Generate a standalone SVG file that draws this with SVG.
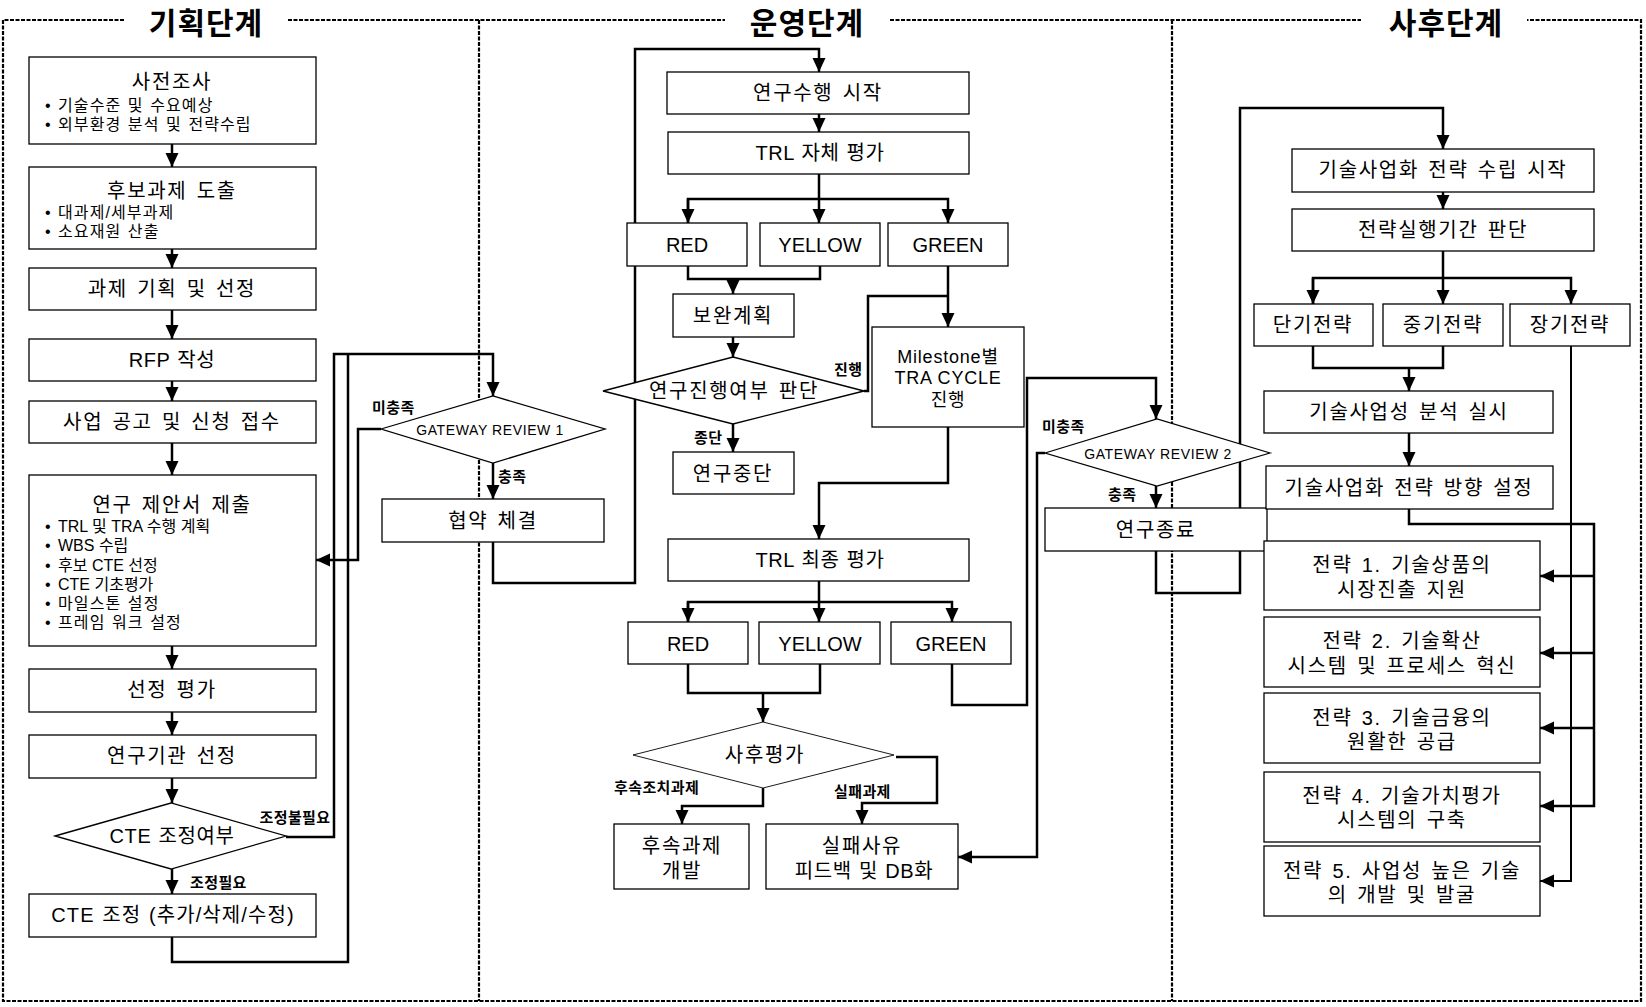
<svg xmlns="http://www.w3.org/2000/svg" width="1646" height="1007" viewBox="0 0 1646 1007">
<defs>
<style>
.bg{fill:#fff}
.frame{fill:none;stroke:#000;stroke-width:2.2;stroke-dasharray:4 1.5}
.box{fill:#fff;stroke:#000;stroke-width:1.3}
.dia{fill:#fff;stroke:#000;stroke-width:1.3}
.dthin{fill:#fff;stroke:#000;stroke-width:0.9}
.c{fill:none;stroke:#000;stroke-width:2.5}
.c2{fill:none;stroke:#000;stroke-width:2}
text{font-family:"Liberation Sans","Noto Sans CJK KR",sans-serif;fill:#000}
.title{font-family:"Noto Sans CJK KR",sans-serif;font-size:30px;font-weight:bold;text-anchor:middle;letter-spacing:1px}
.t{font-size:20px;text-anchor:middle;letter-spacing:1.7px;word-spacing:2px}
.tl{font-size:20px;text-anchor:middle;letter-spacing:0.6px;word-spacing:1px}
.tc{font-size:20px;text-anchor:middle;letter-spacing:1.1px;word-spacing:1px}
.tn{font-size:20px;text-anchor:middle}
.s{font-size:16px;letter-spacing:1.1px;word-spacing:1px}
.sl{font-size:16px}
.l{font-size:15px;font-weight:bold;letter-spacing:0.4px}
.g{font-size:14px;text-anchor:middle;letter-spacing:0.6px}
.m{font-size:18px;text-anchor:middle;letter-spacing:0.8px}
</style>
<marker id="ah" markerUnits="userSpaceOnUse" markerWidth="14" markerHeight="14" viewBox="0 0 14 14" refX="14" refY="7" orient="auto"><path d="M0,0.5 L14,7 L0,13.5 z" fill="#000"/></marker>
</defs>
<rect class="bg" width="1646" height="1007"/>
<g id="frame">
<path class="frame" d="M124,20 H3 V1001 H1641 V20 H1527"/>
<path class="frame" d="M288,20 H725"/>
<path class="frame" d="M890,20 H1361"/>
<path class="frame" d="M479,20 V1001"/>
<path class="frame" d="M1172,20 V1001"/>
<text class="title" x="206" y="34">기획단계</text>
<text class="title" x="807" y="34">운영단계</text>
<text class="title" x="1446" y="34">사후단계</text>
</g>
<g id="connectors">
<path class="c" d="M172,144 V167" marker-end="url(#ah)"/>
<path class="c" d="M172,249 V268" marker-end="url(#ah)"/>
<path class="c" d="M172,310 V339" marker-end="url(#ah)"/>
<path class="c" d="M172,381 V401" marker-end="url(#ah)"/>
<path class="c" d="M172,443 V475" marker-end="url(#ah)"/>
<path class="c" d="M172,646 V669" marker-end="url(#ah)"/>
<path class="c" d="M172,712 V735" marker-end="url(#ah)"/>
<path class="c" d="M172,778 V803" marker-end="url(#ah)"/>
<path class="c" d="M172,869 V894" marker-end="url(#ah)"/>
<path class="c" d="M286,837 H334 V354 H493 V396" marker-end="url(#ah)"/>
<path class="c" d="M172,937 V962 H348 V354"/>
<path class="c" d="M381,429 H358 V560 H316" marker-end="url(#ah)"/>
<path class="c" d="M493,463 V499" marker-end="url(#ah)"/>
<path class="c" d="M493,542 V583 H635 V49 H819 V72" marker-end="url(#ah)"/>
<path class="c" d="M819,114 V132" marker-end="url(#ah)"/>
<path class="c" d="M819,174 V199"/>
<path class="c" d="M688,223 V199 H948 V223" marker-end="url(#ah)"/>
<path class="c" d="M688,199 V223" marker-end="url(#ah)"/>
<path class="c" d="M819,199 V223" marker-end="url(#ah)"/>
<path class="c" d="M688,266 V279 H820 V266"/>
<path class="c" d="M733,279 V294" marker-end="url(#ah)"/>
<path class="c" d="M733,337 V357" marker-end="url(#ah)"/>
<path class="c" d="M733,424 V452" marker-end="url(#ah)"/>
<path class="c" d="M864,391 H868 V296 H948"/>
<path class="c" d="M948,266 V327" marker-end="url(#ah)"/>
<path class="c" d="M948,427 V483 H819 V539" marker-end="url(#ah)"/>
<path class="c" d="M819,581 V602"/>
<path class="c" d="M688,622 V602 H952 V622" marker-end="url(#ah)"/>
<path class="c" d="M688,602 V622" marker-end="url(#ah)"/>
<path class="c" d="M819,602 V622" marker-end="url(#ah)"/>
<path class="c" d="M688,664 V693 H820 V664"/>
<path class="c" d="M763,693 V722" marker-end="url(#ah)"/>
<path class="c" d="M763,788 V806 H682 V824" marker-end="url(#ah)"/>
<path class="c" d="M896,757 H937 V803 H862 V824" marker-end="url(#ah)"/>
<path class="c" d="M952,664 V705 H1027 V378 H1156 V419" marker-end="url(#ah)"/>
<path class="c" d="M1045,453 H1037 V857 H958" marker-end="url(#ah)"/>
<path class="c" d="M1156,486 V508" marker-end="url(#ah)"/>
<path class="c" d="M1156,551 V593 H1240 V108 H1443 V149" marker-end="url(#ah)"/>
<path class="c" d="M1443,192 V209" marker-end="url(#ah)"/>
<path class="c" d="M1443,251 V278"/>
<path class="c" d="M1313,304 V278 H1571 V304" marker-end="url(#ah)"/>
<path class="c" d="M1313,278 V304" marker-end="url(#ah)"/>
<path class="c" d="M1443,278 V304" marker-end="url(#ah)"/>
<path class="c" d="M1313,346 V368 H1443 V346"/>
<path class="c" d="M1409,368 V391" marker-end="url(#ah)"/>
<path class="c" d="M1409,433 V466" marker-end="url(#ah)"/>
<path class="c2" d="M1571,346 V881 H1540" marker-end="url(#ah)"/>
<path class="c" d="M1409,509 V524 H1594 V806 H1540" marker-end="url(#ah)"/>
<path class="c" d="M1594,576 H1540" marker-end="url(#ah)"/>
<path class="c" d="M1594,653 H1540" marker-end="url(#ah)"/>
<path class="c" d="M1594,728 H1540" marker-end="url(#ah)"/>
</g>
<g id="labels">
<text class="l" x="295" y="823" text-anchor="middle">조정불필요</text>
<text class="l" x="190" y="888">조정필요</text>
<text class="l" x="372" y="413">미충족</text>
<text class="l" x="498" y="482">충족</text>
<text class="l" x="834" y="375">진행</text>
<text class="l" x="694" y="443">종단</text>
<text class="l" x="614" y="793">후속조치과제</text>
<text class="l" x="834" y="797">실패과제</text>
<text class="l" x="1042" y="432">미충족</text>
<text class="l" x="1108" y="500">충족</text>
</g>
<g id="n-presurvey">
<rect class="box" x="29" y="57" width="287" height="87"/>
<text class="t" x="172" y="89">사전조사</text>
<text class="s" x="45" y="111">•<tspan x="58">기술수준 및 수요예상</tspan></text>
<text class="s" x="45" y="130">•<tspan x="58">외부환경 분석 및 전략수립</tspan></text>
</g>
<g id="n-candidate">
<rect class="box" x="29" y="167" width="287" height="82"/>
<text class="t" x="172" y="198">후보과제 도출</text>
<text class="s" x="45" y="218">•<tspan x="58">대과제/세부과제</tspan></text>
<text class="s" x="45" y="237">•<tspan x="58">소요재원 산출</tspan></text>
</g>
<g id="n-plan"><rect class="box" x="29" y="268" width="287" height="42"/><text class="t" x="172" y="296">과제 기획 및 선정</text></g>
<g id="n-rfp"><rect class="box" x="29" y="339" width="287" height="42"/><text class="tl" x="172" y="367">RFP 작성</text></g>
<g id="n-notice"><rect class="box" x="29" y="401" width="287" height="42"/><text class="t" x="172" y="429">사업 공고 및 신청 접수</text></g>
<g id="n-proposal">
<rect class="box" x="29" y="475" width="287" height="171"/>
<text class="t" x="172" y="512">연구 제안서 제출</text>
<text class="sl" x="45" y="532">•<tspan x="58">TRL 및 TRA 수행 계획</tspan></text>
<text class="sl" x="45" y="551">•<tspan x="58">WBS 수립</tspan></text>
<text class="sl" x="45" y="571">•<tspan x="58">후보 CTE 선정</tspan></text>
<text class="sl" x="45" y="590">•<tspan x="58">CTE 기초평가</tspan></text>
<text class="s" x="45" y="609">•<tspan x="58">마일스톤 설정</tspan></text>
<text class="s" x="45" y="628">•<tspan x="58">프레임 워크 설정</tspan></text>
</g>
<g id="n-eval"><rect class="box" x="29" y="669" width="287" height="43"/><text class="t" x="172" y="697">선정 평가</text></g>
<g id="n-inst"><rect class="box" x="29" y="735" width="287" height="43"/><text class="t" x="172" y="763">연구기관 선정</text></g>
<g id="n-ctedec"><polygon class="dia" points="55,836 171,803 286,836 171,869"/><text class="tl" x="172" y="843">CTE 조정여부</text></g>
<g id="n-cteadj"><rect class="box" x="29" y="894" width="287" height="43"/><text class="tc" x="173" y="922">CTE 조정 (추가/삭제/수정)</text></g>
<g id="n-gw1"><polygon class="dia" points="381,429 493,396 605,429 493,463"/><text class="g" x="490" y="435">GATEWAY REVIEW 1</text></g>
<g id="n-contract"><rect class="box" x="382" y="499" width="222" height="43"/><text class="t" x="493" y="528">협약 체결</text></g>
<g id="n-start"><rect class="box" x="667" y="72" width="302" height="42"/><text class="t" x="818" y="100">연구수행 시작</text></g>
<g id="n-trlself"><rect class="box" x="668" y="132" width="301" height="42"/><text class="tl" x="820" y="160">TRL 자체 평가</text></g>
<g id="n-red1"><rect class="box" x="627" y="223" width="120" height="43"/><text class="tn" x="687" y="252">RED</text></g>
<g id="n-yellow1"><rect class="box" x="760" y="223" width="120" height="43"/><text class="tn" x="820" y="252">YELLOW</text></g>
<g id="n-green1"><rect class="box" x="888" y="223" width="120" height="43"/><text class="tn" x="948" y="252">GREEN</text></g>
<g id="n-supp"><rect class="box" x="673" y="294" width="121" height="43"/><text class="t" x="733" y="323">보완계획</text></g>
<g id="n-progdec"><polygon class="dia" points="603,391 733,357 864,391 733,424"/><text class="t" x="734" y="398">연구진행여부 판단</text></g>
<g id="n-milestone">
<rect class="box" x="872" y="327" width="152" height="100"/>
<text class="m" x="948" y="363">Milestone별</text>
<text class="m" x="948" y="384">TRA CYCLE</text>
<text class="m" x="948" y="406">진행</text>
</g>
<g id="n-stop"><rect class="box" x="673" y="452" width="121" height="42"/><text class="t" x="733" y="481">연구중단</text></g>
<g id="n-trlfinal"><rect class="box" x="668" y="539" width="301" height="42"/><text class="tl" x="820" y="567">TRL 최종 평가</text></g>
<g id="n-red2"><rect class="box" x="628" y="622" width="120" height="42"/><text class="tn" x="688" y="651">RED</text></g>
<g id="n-yellow2"><rect class="box" x="759" y="622" width="121" height="42"/><text class="tn" x="820" y="651">YELLOW</text></g>
<g id="n-green2"><rect class="box" x="891" y="622" width="120" height="42"/><text class="tn" x="951" y="651">GREEN</text></g>
<g id="n-posteval"><polygon class="dthin" points="633,755 763,722 894,755 763,788"/><text class="t" x="765" y="762">사후평가</text></g>
<g id="n-follow"><rect class="box" x="614" y="824" width="135" height="65"/><text class="t" x="682" y="853">후속과제</text><text class="t" x="682" y="878">개발</text></g>
<g id="n-fail"><rect class="box" x="766" y="824" width="192" height="65"/><text class="t" x="862" y="853">실패사유</text><text class="tl" x="864" y="878">피드백 및 DB화</text></g>
<g id="n-gw2"><polygon class="dia" points="1045,453 1157,419 1270,453 1157,486"/><text class="g" x="1158" y="459">GATEWAY REVIEW 2</text></g>
<g id="n-end"><rect class="box" x="1045" y="508" width="222" height="43"/><text class="t" x="1156" y="537">연구종료</text></g>
<g id="n-cstart"><rect class="box" x="1292" y="149" width="302" height="43"/><text class="t" x="1443" y="177">기술사업화 전략 수립 시작</text></g>
<g id="n-period"><rect class="box" x="1292" y="209" width="302" height="42"/><text class="t" x="1443" y="237">전략실행기간 판단</text></g>
<g id="n-short"><rect class="box" x="1254" y="304" width="119" height="42"/><text class="t" x="1313" y="332">단기전략</text></g>
<g id="n-mid"><rect class="box" x="1383" y="304" width="120" height="42"/><text class="t" x="1443" y="332">중기전략</text></g>
<g id="n-long"><rect class="box" x="1510" y="304" width="120" height="42"/><text class="t" x="1570" y="332">장기전략</text></g>
<g id="n-analysis"><rect class="box" x="1264" y="391" width="289" height="42"/><text class="t" x="1409" y="419">기술사업성 분석 실시</text></g>
<g id="n-direction"><rect class="box" x="1266" y="466" width="287" height="43"/><text class="t" x="1409" y="495">기술사업화 전략 방향 설정</text></g>
<g id="n-s1"><rect class="box" x="1264" y="541" width="276" height="69"/><text class="t" x="1402" y="572">전략 1. 기술상품의</text><text class="t" x="1402" y="597">시장진출 지원</text></g>
<g id="n-s2"><rect class="box" x="1264" y="617" width="276" height="70"/><text class="t" x="1402" y="648">전략 2. 기술확산</text><text class="t" x="1402" y="673">시스템 및 프로세스 혁신</text></g>
<g id="n-s3"><rect class="box" x="1264" y="693" width="276" height="70"/><text class="t" x="1402" y="725">전략 3. 기술금융의</text><text class="t" x="1402" y="749">원활한 공급</text></g>
<g id="n-s4"><rect class="box" x="1264" y="772" width="276" height="70"/><text class="t" x="1402" y="803">전략 4. 기술가치평가</text><text class="t" x="1402" y="827">시스템의 구축</text></g>
<g id="n-s5"><rect class="box" x="1264" y="846" width="276" height="70"/><text class="t" x="1402" y="878">전략 5. 사업성 높은 기술</text><text class="t" x="1402" y="902">의 개발 및 발굴</text></g>
</svg>
